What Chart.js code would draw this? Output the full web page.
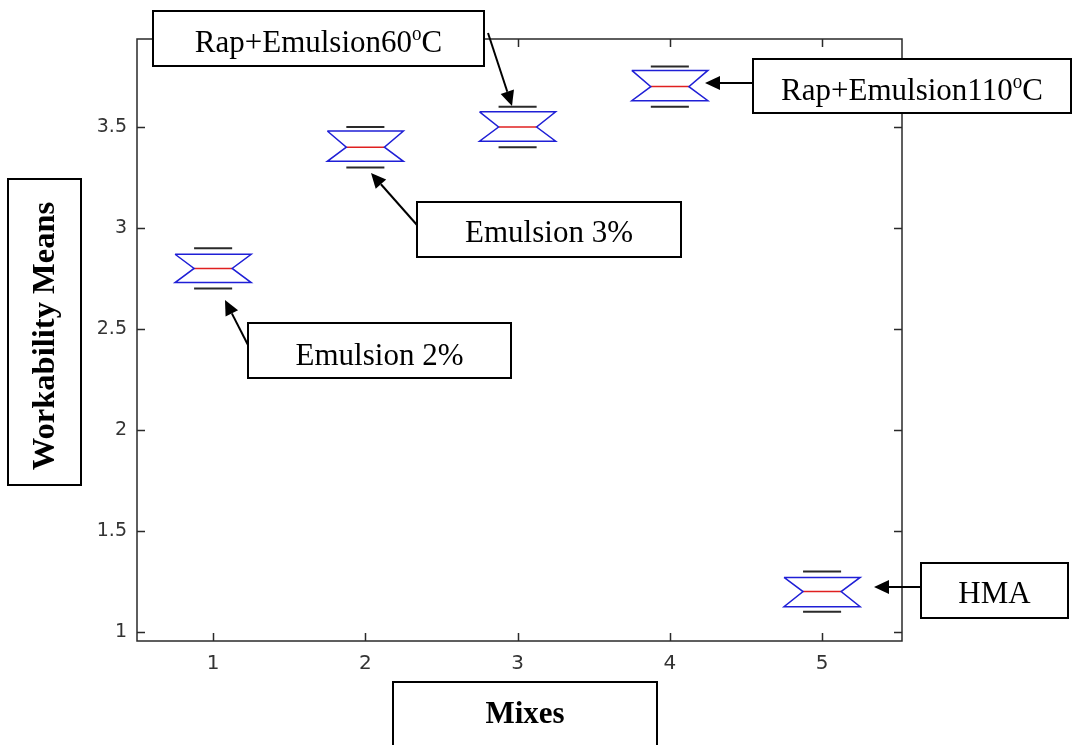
<!DOCTYPE html>
<html><head><meta charset="utf-8">
<script src="https://cdn.jsdelivr.net/npm/chart.js@4.4.0/dist/chart.umd.min.js"></script>
<style>html,body{margin:0;padding:0;background:#fff;overflow:hidden;} canvas{display:block;}</style>
</head><body>
<canvas id="c" width="1081" height="745"></canvas>
<script>
// ---- data ----
const mixes = [1, 2, 3, 4, 5];
const medians = [2.8, 3.4, 3.5, 3.7, 1.2];
const q1 = [2.73, 3.33, 3.43, 3.63, 1.125];
const q3 = [2.87, 3.48, 3.575, 3.78, 1.27];
const whiskerLow = [2.7, 3.3, 3.4, 3.6, 1.1];
const whiskerHigh = [2.9, 3.5, 3.6, 3.8, 1.3];
const yTickValues = [1, 1.5, 2, 2.5, 3, 3.5];
const xTickValues = [1, 2, 3, 4, 5];
const yAxisTitle = 'Workability Means';
const xAxisTitle = 'Mixes';
const calloutTexts = ['Emulsion 2%', 'Emulsion 3%', 'Rap+Emulsion60|o|C', 'Rap+Emulsion110|o|C', 'HMA'];

// ---- style constants ----
const BOX_HW = 0.25, NOTCH_HW = 0.125;
const BLUE = '#1f1fd6', RED = '#e02020', DARK = '#2a2a2a';
const STRETCH = 1.05;

const datasets = [];
mixes.forEach((x, i) => {
  datasets.push({
    data: [
      {x: x - BOX_HW, y: q3[i]}, {x: x + BOX_HW, y: q3[i]}, {x: x + NOTCH_HW, y: medians[i]},
      {x: x + BOX_HW, y: q1[i]}, {x: x - BOX_HW, y: q1[i]}, {x: x - NOTCH_HW, y: medians[i]},
      {x: x - BOX_HW, y: q3[i]}
    ],
    borderColor: BLUE, borderWidth: 1.5
  });
  datasets.push({
    data: [{x: x - NOTCH_HW, y: medians[i]}, {x: x + NOTCH_HW, y: medians[i]}],
    borderColor: RED, borderWidth: 1.5
  });
  datasets.push({
    data: [{x: x - NOTCH_HW, y: whiskerHigh[i]}, {x: x + NOTCH_HW, y: whiskerHigh[i]}],
    borderColor: DARK, borderWidth: 2
  });
  datasets.push({
    data: [{x: x - NOTCH_HW, y: whiskerLow[i]}, {x: x + NOTCH_HW, y: whiskerLow[i]}],
    borderColor: DARK, borderWidth: 2
  });
});
datasets.forEach(d => { d.showLine = true; d.pointRadius = 0; d.fill = false; d.tension = 0; });

const framePlugin = {
  id: 'frame',
  beforeDatasetsDraw(chart) {
    const {ctx, chartArea: a, scales: {x, y}} = chart;
    ctx.save();
    ctx.strokeStyle = DARK; ctx.lineWidth = 1.5;
    ctx.strokeRect(a.left, a.top, a.right - a.left, a.bottom - a.top);
    const L = 8;
    ctx.beginPath();
    xTickValues.forEach(v => {
      const px = Math.round(x.getPixelForValue(v)) + 0.5;
      ctx.moveTo(px, a.bottom); ctx.lineTo(px, a.bottom - L);
      ctx.moveTo(px, a.top); ctx.lineTo(px, a.top + L);
    });
    yTickValues.forEach(v => {
      const py = Math.round(y.getPixelForValue(v)) + 0.5;
      ctx.moveTo(a.left, py); ctx.lineTo(a.left + L, py);
      ctx.moveTo(a.right, py); ctx.lineTo(a.right - L, py);
    });
    ctx.stroke();
    ctx.restore();
  }
};

// draws text centred at (0,0) horizontally, baseline at 0, in current transform
function drawSupText(ctx, str, size, bold) {
  const parts = str.split('|');
  const w = bold ? 'bold ' : '';
  const big = w + size + 'px "Liberation Serif", "Times New Roman", serif';
  const small = w + Math.round(size * 0.62) + 'px "Liberation Serif", "Times New Roman", serif';
  const fonts = parts.map((p, i) => i % 2 === 1 ? small : big);
  let total = 0;
  const widths = parts.map((p, i) => { ctx.font = fonts[i]; const m = ctx.measureText(p).width; total += m; return m; });
  let xx = -total / 2;
  ctx.textBaseline = 'alphabetic'; ctx.textAlign = 'left';
  parts.forEach((p, i) => {
    ctx.font = fonts[i];
    const yy = i % 2 === 1 ? -size * 0.38 : 0;
    ctx.fillText(p, xx, yy);
    xx += widths[i];
  });
}

function arrow(ctx, x0, y0, x1, y1) {
  const ang = Math.atan2(y1 - y0, x1 - x0);
  const hl = 15, hw = 7;
  const bx = x1 - hl * Math.cos(ang), by = y1 - hl * Math.sin(ang);
  ctx.beginPath(); ctx.moveTo(x0, y0); ctx.lineTo(bx, by); ctx.stroke();
  ctx.beginPath();
  ctx.moveTo(x1, y1);
  ctx.lineTo(bx + hw * Math.sin(ang), by - hw * Math.cos(ang));
  ctx.lineTo(bx - hw * Math.sin(ang), by + hw * Math.cos(ang));
  ctx.closePath(); ctx.fill();
}

const calloutBoxes = [
  {r: [248, 323, 511, 378], base: 365, from: [248, 345], to: [225, 300]},
  {r: [417, 202, 681, 257], base: 242, from: [417, 225], to: [371, 173]},
  {r: [153, 11, 484, 66], base: 52, from: [488, 33], to: [512, 106]},
  {r: [753, 59, 1071, 113], base: 100, from: [753, 83], to: [705, 83]},
  {r: [921, 563, 1068, 618], base: 603, from: [921, 587], to: [874, 587]}
];

const annotPlugin = {
  id: 'annot',
  afterDraw(chart) {
    const ctx = chart.ctx;
    ctx.save();
    ctx.strokeStyle = '#000'; ctx.fillStyle = '#000'; ctx.lineWidth = 2;
    calloutBoxes.forEach((b, i) => {
      const [l, t, r, bt] = b.r;
      ctx.fillStyle = '#fff'; ctx.fillRect(l, t, r - l, bt - t);
      ctx.strokeRect(l, t, r - l, bt - t);
      ctx.fillStyle = '#000';
      ctx.save();
      ctx.translate((l + r) / 2, b.base);
      ctx.scale(1, STRETCH);
      drawSupText(ctx, calloutTexts[i], 31, false);
      ctx.restore();
      arrow(ctx, b.from[0], b.from[1], b.to[0], b.to[1]);
    });
    // y-axis title box
    ctx.fillStyle = '#fff'; ctx.fillRect(8, 179, 73, 306);
    ctx.strokeRect(8, 179, 73, 306);
    ctx.fillStyle = '#000';
    ctx.save();
    ctx.translate(54, 336);
    ctx.rotate(-Math.PI / 2);
    ctx.scale(STRETCH, 1);
    drawSupText(ctx, yAxisTitle, 31, true);
    ctx.restore();
    // x-axis title box
    ctx.fillStyle = '#fff'; ctx.fillRect(393, 682, 264, 80);
    ctx.strokeRect(393, 682, 264, 80);
    ctx.fillStyle = '#000';
    ctx.save();
    ctx.translate(525, 723);
    ctx.scale(1, STRETCH);
    drawSupText(ctx, xAxisTitle, 31, true);
    ctx.restore();
    ctx.restore();
  }
};

new Chart(document.getElementById('c'), {
  type: 'scatter',
  data: {datasets},
  options: {
    responsive: false,
    animation: false,
    layout: {padding: {left: 0, top: 39, right: 179, bottom: 0}},
    plugins: {legend: {display: false}, tooltip: {enabled: false}},
    scales: {
      x: {
        type: 'linear', min: 0.5, max: 5.525,
        grid: {display: false, drawTicks: false}, border: {display: false},
        afterBuildTicks: s => { s.ticks = xTickValues.map(v => ({value: v})); },
        afterFit: s => { s.height = 104; },
        ticks: {padding: 11, color: '#333', font: {family: '"DejaVu Sans", sans-serif', size: 20}, callback: v => String(v)}
      },
      y: {
        type: 'linear', min: 0.9554, max: 3.9356,
        grid: {display: false, drawTicks: false}, border: {display: false},
        afterBuildTicks: s => { s.ticks = yTickValues.map(v => ({value: v})); },
        afterFit: s => { s.width = 137; },
        ticks: {padding: 10, color: '#333', font: {family: '"DejaVu Sans", sans-serif', size: 19}, callback: v => String(v)}
      }
    }
  },
  plugins: [framePlugin, annotPlugin]
});
</script>
</body></html>
